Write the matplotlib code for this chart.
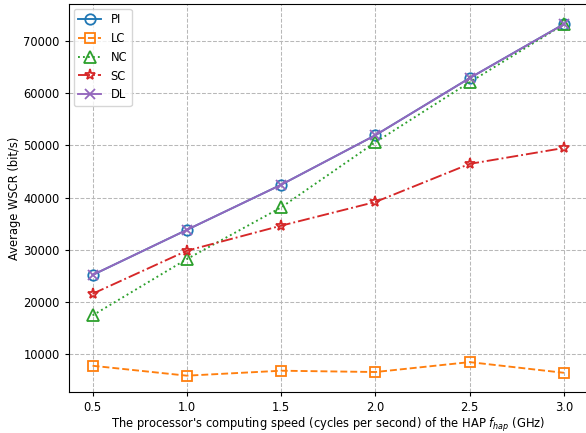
import matplotlib
matplotlib.use("Agg")
import matplotlib.pyplot as plt

x = [0.5, 1.0, 1.5, 2.0, 2.5, 3.0]
pi = [25150, 33800, 42450, 51950, 62900, 73250]
lc = [7750, 5850, 6800, 6550, 8450, 6400]
nc = [17400, 28200, 38100, 50600, 62100, 73200]
sc = [21550, 29800, 34600, 39150, 46450, 49500]
dl = [25150, 33800, 42450, 51950, 62900, 73250]

fs = 8.3
fig = plt.figure(figsize=(5.86, 4.33), dpi=100)
ax = fig.add_axes([69/586, 1-392/433, 518.5/586, 388/433])

kw = dict(fillstyle='none', markeredgewidth=1.3, linewidth=1.35)
ax.plot(x, pi, '-', marker='o', color='tab:blue', markersize=7.5, label='PI', **kw)
ax.plot(x, lc, '--', marker='s', color='tab:orange', markersize=7, label='LC', **kw)
ax.plot(x, nc, ':', marker='^', color='tab:green', markersize=8, label='NC', **kw)
ax.plot(x, sc, '-.', marker='*', color='tab:red', markersize=8, label='SC', **kw)
ax.plot(x, dl, '-', marker='x', color='tab:purple', markersize=7.5, label='DL', **kw)

ax.set_xlim(0.375, 3.125)
ax.set_ylim(2720, 77100)
ax.set_xticks(x)
ax.grid(True, linestyle='--', color='#b8b8b8', linewidth=0.75)
ax.set_xlabel(r"The processor's computing speed (cycles per second) of the HAP $f_{hap}$ (GHz)", fontsize=fs, labelpad=1)
ax.set_ylabel("Average WSCR (bit/s)", fontsize=fs, labelpad=2)
ax.tick_params(labelsize=fs, length=3.2)
ax.legend(loc='upper left', fontsize=fs, borderaxespad=0.4)

fig.savefig("out.png", dpi=100)
